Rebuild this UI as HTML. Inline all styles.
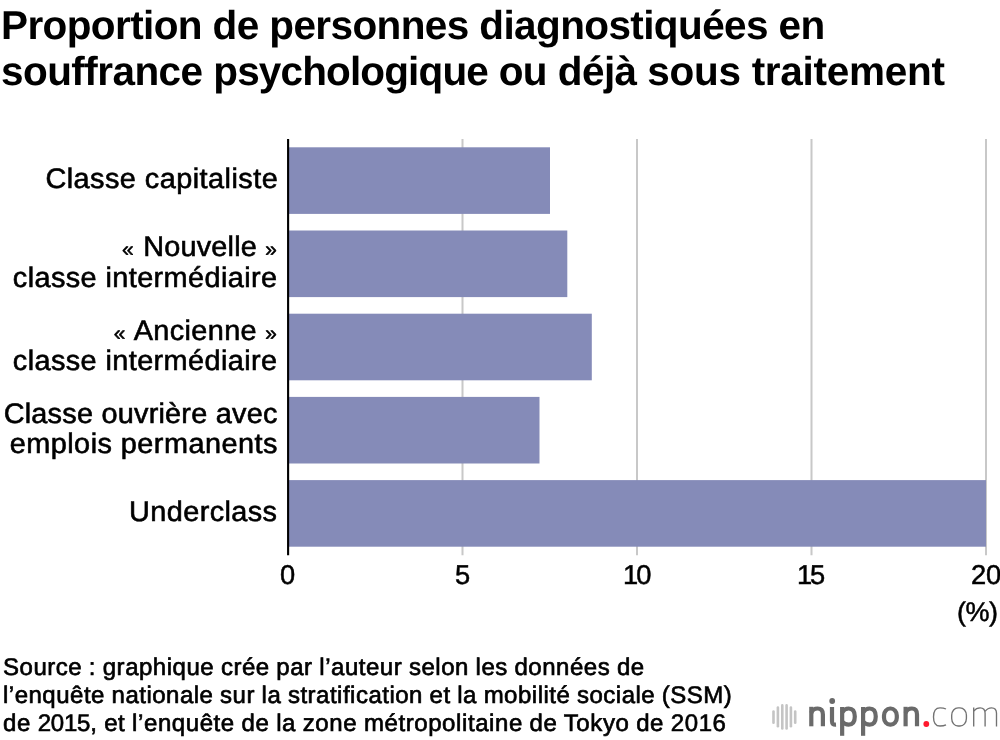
<!DOCTYPE html>
<html lang="fr">
<head>
<meta charset="utf-8">
<title>Proportion de personnes diagnostiquées en souffrance psychologique</title>
<style>
  html, body { margin: 0; padding: 0; }
  html { width: 1000px; height: 740px; overflow: hidden; background: #ffffff; }
  body {
    width: 1000px; height: 740px; position: relative; overflow: hidden;
    background: #ffffff; color: #000000;
    font-family: "Liberation Sans", sans-serif;
  }
  .t { position: absolute; white-space: nowrap; transform-origin: 0 0; line-height: 1; will-change: transform; text-rendering: geometricPrecision; }
  .g { font-size: 0.72em; position: relative; top: -0.5px; }
</style>
</head>
<body>

<!-- Chart -->
<svg id="chart" style="position:absolute; left:0; top:0;" width="1000" height="600" viewBox="0 0 1000 600">
  <g stroke="#c8c8c8" stroke-width="2" fill="none">
    <path d="M462.5 139V555.2"/>
    <path d="M637 139V555.2"/>
    <path d="M811.5 139V555.2"/>
    <path d="M986 139V555.2"/>
  </g>
  <g fill="#858bb8">
    <rect x="288" y="147.3" width="262" height="66.6"/>
    <rect x="288" y="230.5" width="279.3" height="66.6"/>
    <rect x="288" y="313.7" width="303.8" height="66.6"/>
    <rect x="288" y="396.9" width="251.5" height="66.6"/>
    <rect x="288" y="480.1" width="698" height="66.6"/>
  </g>
  <path d="M288.1 139V555.2" stroke="#000" stroke-width="2.1" fill="none"/>
</svg>

<!-- Text -->
<div class="t" id="t1" style="font-size:40.5px;top:4.76px;letter-spacing:-0.604px;left:0.77px;transform-origin:0 0;font-weight:bold;">Proportion de personnes diagnostiquées en</div>
<div class="t" id="t2" style="font-size:40.5px;top:51.11px;letter-spacing:-0.550px;left:0.80px;transform-origin:0 0;font-weight:bold;">souffrance <span style="letter-spacing:-0.852px">psychologique</span> ou déjà <span style="letter-spacing:-0.282px">sous traitement</span></div>
<div class="t" id="l1" style="font-size:28.3px;top:164.34px;letter-spacing:0.443px;right:721.61px;transform-origin:100% 0;transform:scaleX(1.0200);-webkit-text-stroke:0.6px #000;">Classe capitaliste</div>
<div class="t" id="l2a" style="font-size:28.3px;top:232.24px;letter-spacing:0.194px;right:723.12px;transform-origin:100% 0;transform:scaleX(1.0200);-webkit-text-stroke:0.6px #000;"><span class="g" style="margin-right:1.2px">«</span> Nouvelle <span class="g">»</span></div>
<div class="t" id="l2b" style="font-size:28.3px;top:262.64px;letter-spacing:0.394px;right:722.15px;transform-origin:100% 0;transform:scaleX(1.0200);-webkit-text-stroke:0.6px #000;">classe intermédiaire</div>
<div class="t" id="l3a" style="font-size:28.3px;top:315.64px;letter-spacing:0.354px;right:722.34px;transform-origin:100% 0;transform:scaleX(1.0200);-webkit-text-stroke:0.6px #000;"><span class="g" style="margin-right:1.2px">«</span> Ancienne <span class="g">»</span></div>
<div class="t" id="l3b" style="font-size:28.3px;top:346.24px;letter-spacing:0.394px;right:722.15px;transform-origin:100% 0;transform:scaleX(1.0200);-webkit-text-stroke:0.6px #000;">classe intermédiaire</div>
<div class="t" id="l4a" style="font-size:28.3px;top:398.84px;letter-spacing:0.218px;right:722.10px;transform-origin:100% 0;transform:scaleX(1.0200);-webkit-text-stroke:0.6px #000;">Classe ouvrière avec</div>
<div class="t" id="l4b" style="font-size:28.3px;top:428.74px;letter-spacing:0.446px;right:722.66px;transform-origin:100% 0;transform:scaleX(1.0200);-webkit-text-stroke:0.6px #000;">emplois permanents</div>
<div class="t" id="l5" style="font-size:28.3px;top:496.84px;letter-spacing:0.381px;right:722.40px;transform-origin:100% 0;transform:scaleX(1.0200);-webkit-text-stroke:0.6px #000;">Underclass</div>
<div class="t" id="k0" style="font-size:27.3px;top:561.19px;letter-spacing:0.000px;left:279.97px;transform-origin:0 0;-webkit-text-stroke:0.5px #000;">0</div>
<div class="t" id="k5" style="font-size:27.3px;top:561.19px;letter-spacing:0.000px;left:454.59px;transform-origin:0 0;-webkit-text-stroke:0.5px #000;">5</div>
<div class="t" id="k10" style="font-size:27.3px;top:561.19px;letter-spacing:-1.998px;left:623.27px;transform-origin:0 0;-webkit-text-stroke:0.5px #000;">10</div>
<div class="t" id="k15" style="font-size:27.3px;top:561.19px;letter-spacing:-2.096px;left:796.80px;transform-origin:0 0;-webkit-text-stroke:0.5px #000;">15</div>
<div class="t" id="k20" style="font-size:27.3px;top:561.19px;letter-spacing:-0.300px;left:971.00px;transform-origin:0 0;width:29px;overflow:hidden;-webkit-text-stroke:0.5px #000;">20</div>
<div class="t" id="pct" style="font-size:27px;top:599.04px;letter-spacing:-0.535px;right:2.59px;transform-origin:100% 0;-webkit-text-stroke:0.5px #000;">(%)</div>
<div class="t" id="s1" style="font-size:24px;top:655.88px;letter-spacing:0.522px;word-spacing:-0.5px;left:3.19px;transform-origin:0 0;-webkit-text-stroke:0.65px #000;">Source : graphique crée par l’auteur selon les données de</div>
<div class="t" id="s2" style="font-size:24px;top:683.58px;letter-spacing:0.497px;word-spacing:-0.5px;left:3.05px;transform-origin:0 0;-webkit-text-stroke:0.65px #000;">l’enquête nationale sur la stratification et la mobilité sociale (SSM)</div>
<div class="t" id="s3" style="font-size:24px;top:712.18px;letter-spacing:0.585px;word-spacing:-0.5px;left:2.70px;transform-origin:0 0;-webkit-text-stroke:0.65px #000;">de <span style="letter-spacing:-0.213px">2015</span>, et l’enquête de la zone métropolitaine de Tokyo de 2016</div>

<!-- Logo -->
<svg id="logo" style="position:absolute; left:760px; top:690px;" width="240" height="50" viewBox="760 690 240 50">
  <g stroke="#c4c4c4" stroke-width="2.6" stroke-linecap="round" fill="none">
    <path d="M773.5 711.5V722.8"/>
    <path d="M777.9 707.6V726.2"/>
    <path d="M782.3 705.4V728.4"/>
    <path d="M786.6 705.4V728.4"/>
    <path d="M790.9 707.6V726.2"/>
    <path d="M795.2 711.5V722.8"/>
  </g>
  <g stroke="#6a6a6a" stroke-width="4.2" fill="none" stroke-linecap="butt" stroke-linejoin="round">
    <!-- n -->
    <path d="M811.3 726.3V706.8"/>
    <path d="M811.3 713C812.3 710 814.5 708.5 817.6 708.5C821.3 708.5 822.9 710.6 822.9 714.4V726.3"/>
    <!-- i -->
    <path d="M832 707V721.2C832 724 833.3 724.8 836 724.6"/>
    <!-- p -->
    <path d="M842.15 707V735.8"/>
    <path d="M842.15 712.6C843.6 710 845.8 708.5 848.7 708.5C852.9 708.5 854.8 711.4 854.8 716.6C854.8 721.8 852.9 724.7 848.7 724.7C846 724.7 843.9 723.6 842.15 721.6"/>
    <!-- p -->
    <path d="M863.1 707V735.8"/>
    <path d="M863.1 712.6C864.55 710 866.75 708.5 869.65 708.5C873.85 708.5 875.75 711.4 875.75 716.6C875.75 721.8 873.85 724.7 869.65 724.7C866.95 724.7 864.85 723.6 863.1 721.6"/>
    <!-- o -->
    <rect x="884" y="708.5" width="12.8" height="16.2" rx="6.1" ry="6.9"/>
    <!-- n -->
    <path d="M905.6 726.3V706.8"/>
    <path d="M905.6 713C906.6 710 908.8 708.5 911.9 708.5C915.6 708.5 917 710.6 917 714.4V726.3"/>
  </g>
  <circle cx="832.2" cy="701" r="2.9" fill="#6a6a6a"/>
  <circle cx="926.3" cy="724" r="2.9" fill="#ff1a2e"/>
  <g stroke="#727272" stroke-width="1.35" fill="none" stroke-linecap="butt">
    <!-- c -->
    <path d="M946 709C944.2 708.1 942.3 707.8 940 707.8C935.3 707.8 933.5 710.6 933.5 716.9C933.5 723.2 935.3 726 940 726C942.3 726 944.2 725.7 946 724.8"/>
    <!-- o -->
    <rect x="951.7" y="707.8" width="14.7" height="18.2" rx="6.4" ry="7.4"/>
    <!-- m -->
    <path d="M973.7 726.6V707.6"/>
    <path d="M973.7 711C975.6 708.7 977.7 707.8 980.1 707.8C983.7 707.8 985.1 709.8 985.1 713.2V726.6"/>
    <path d="M985.1 711.4C987 708.7 989.1 707.8 991.6 707.8C995.2 707.8 996.5 709.8 996.5 713.2V726.6"/>
  </g>
</svg>

</body>
</html>
